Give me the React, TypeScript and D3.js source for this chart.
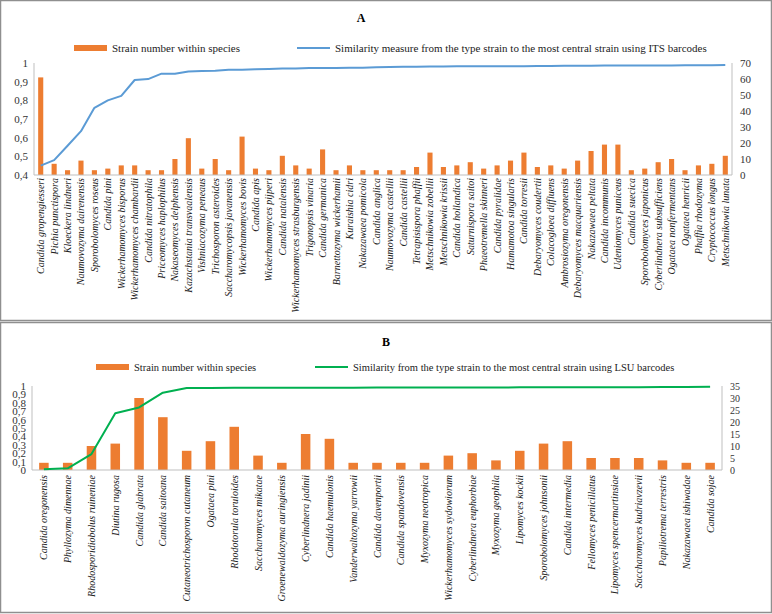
import React from "react";
import * as d3 from "d3";

const catsA = [
  "Candida gropengiesseri","Pichia punctispora","Kloeckera lindneri","Naumovozyma dairenensis","Sporobolomyces roseus",
  "Candida pini","Wickerhamomyces bisporus","Wickerhamomyces chambardii","Candida nitratophila","Priceomyces haplophilus",
  "Nakaseomyces delphensis","Kazachstania transvaalensis","Vishniacozyma peneaus","Trichosporon asteroides","Saccharomycopsis javanensis",
  "Wickerhamomyces bovis","Candida apis","Wickerhamomyces pijperi","Candida natalensis","Wickerhamomyces strasburgensis",
  "Trigonopsis vinaria","Candida germanica","Barnettozyma wickerhamii","Kuraishia cidri","Nakazawaea pomicola",
  "Candida anglica","Naumovozyma castellii","Candida castellii","Tetrapisispora phaffii","Metschnikowia zobellii",
  "Metschnikowia krissii","Candida hollandica","Saturnispora saitoi","Phaeotremella skinneri","Candida pyralidae",
  "Hamamotoa singularis","Candida torresii","Debaryomyces coudertii","Colacogloea diffluens","Ambrosiozyma oregonensis",
  "Debaryomyces macquariensis","Nakazawaea peltata","Candida incommunis","Udeniomyces puniceus","Candida suecica",
  "Sporobolomyces japonicus","Cyberlindnera subsufficiens","Ogataea nonfermentans","Ogataea henricii","Phaffia rhodozyma",
  "Cryptococcus longus","Metschnikowia lunata"
];
const strainsA = [61,7,3,9,3,4,6,6,3,3,10,23,4,10,3,24,4,3,12,6,4,16,3,6,3,3,3,3,5,14,5,6,8,4,6,9,14,5,6,4,9,15,19,19,3,4,8,10,3,6,7,12];
const simA = [0.45,0.48,0.557,0.635,0.76,0.8,0.824,0.909,0.914,0.943,0.943,0.955,0.957,0.959,0.964,0.964,0.966,0.968,0.97,0.971,0.973,0.973,0.973,0.975,0.975,0.977,0.979,0.98,0.98,0.981,0.981,0.982,0.982,0.982,0.983,0.983,0.983,0.984,0.984,0.985,0.985,0.985,0.986,0.986,0.986,0.987,0.987,0.987,0.988,0.988,0.988,0.989];
const leftTicksA = [0.4,0.5,0.6,0.7,0.8,0.9,1];
const rightTicksA = [0,10,20,30,40,50,60,70];

const catsB = [
  "Candida oregonensis","Phyllozyma dimennae","Rhodosporidiobolus ruineniae","Diutina rugosa","Candida glabrata",
  "Candida saitoana","Cutaneotrichosporon cutaneum","Ogataea pini","Rhodotorula toruloides","Saccharomyces mikatae",
  "Groenewaldozyma auringiensis","Cyberlindnera jadinii","Candida haemulonis","Vanderwaltozyma yarrowii","Candida davenportii",
  "Candida spandovensis","Myxozyma neotropica","Wickerhamomyces sydowiorum","Cyberlindnera euphorbiae","Myxozyma geophila",
  "Lipomyces kockii","Sporobolomyces johnsonii","Candida intermedia","Fellomyces penicillatus","Lipomyces spencermartinsiae",
  "Saccharomyces kudriavzevii","Papiliotrema terrestris","Nakazawaea ishiwadae","Candida sojae"
];
const strainsB = [3,3,10,11,30,22,8,12,18,6,3,15,13,3,3,3,3,6,7,4,8,11,12,5,5,5,4,3,3];
const simB = [0.01,0.02,0.19,0.675,0.745,0.92,0.976,0.977,0.978,0.978,0.979,0.979,0.98,0.98,0.981,0.981,0.982,0.982,0.983,0.983,0.984,0.984,0.985,0.985,0.986,0.986,0.987,0.988,0.99];
const leftTicksB = [0,0.1,0.2,0.3,0.4,0.5,0.6,0.7,0.8,0.9,1];
const rightTicksB = [0,5,10,15,20,25,30,35];

const ORANGE = "#ED7D31";
const FONT = "'Liberation Serif', 'Times New Roman', serif";
const fmt = (v: number) => String(v).replace(".", ",");

type PanelProps = {
  title: string; titleX: number; titleY: number;
  cats: string[]; strains: number[]; sim: number[];
  leftTicks: number[]; rightTicks: number[];
  leftDomain: [number, number]; rightMax: number;
  x0: number; x1: number; yTop: number; yBot: number;
  lineColor: string; lineLabel: string;
  legY: number; legBarX: number; legLineX: number;
  barPad: number; labelGap: number; labelSize: number;
  leftFont: number; rightFont: number; legFont: number;
};

function Panel(p: PanelProps) {
  const x = d3.scaleBand<string>().domain(p.cats).range([p.x0, p.x1]).paddingInner(p.barPad).paddingOuter(p.barPad / 2);
  const yL = d3.scaleLinear().domain(p.leftDomain).range([p.yBot, p.yTop]);
  const yR = d3.scaleLinear().domain([0, p.rightMax]).range([p.yBot, p.yTop]);
  const line = d3.line<number>()
    .x((_, i) => (x(p.cats[i]) as number) + x.bandwidth() / 2)
    .y((d) => yL(d));
  return (
    <g fontFamily={FONT}>
      <text x={p.titleX} y={p.titleY} textAnchor="middle" fontWeight="bold" fontSize={12} fill="#000">{p.title}</text>
      <rect x={p.legBarX} y={p.legY - 3} width={33} height={6} fill={ORANGE} />
      <text x={p.legBarX + 38} y={p.legY + 4} fontSize={p.legFont} fill="#222">Strain number within species</text>
      <line x1={p.legLineX} x2={p.legLineX + 33} y1={p.legY} y2={p.legY} stroke={p.lineColor} strokeWidth={2} />
      <text x={p.legLineX + 38} y={p.legY + 4} fontSize={p.legFont} fill="#222">{p.lineLabel}</text>
      {p.strains.map((v, i) => (
        <rect key={i} x={x(p.cats[i])} y={yR(v)} width={x.bandwidth()} height={p.yBot - yR(v)} fill={ORANGE} />
      ))}
      <line x1={p.x0} x2={p.x1} y1={p.yBot} y2={p.yBot} stroke="#bfbfbf" strokeWidth={1} />
      <line x1={p.x0} x2={p.x0} y1={p.yTop} y2={p.yBot} stroke="#bfbfbf" strokeWidth={1} />
      <line x1={p.x1} x2={p.x1} y1={p.yTop} y2={p.yBot} stroke="#bfbfbf" strokeWidth={1} />
      <path d={line(p.sim) || ""} fill="none" stroke={p.lineColor} strokeWidth={2} strokeLinejoin="round" />
      {p.leftTicks.map((t) => (
        <text key={t} x={p.x0 - 6} y={yL(t) + 4} textAnchor="end" fontSize={p.leftFont} fill="#333">{fmt(t)}</text>
      ))}
      {p.rightTicks.map((t) => (
        <text key={t} x={p.x1 + 8} y={yR(t) + 4} textAnchor="start" fontSize={p.rightFont} fill="#333">{t}</text>
      ))}
      {p.cats.map((c) => {
        const cx = (x(c) as number) + x.bandwidth() / 2;
        const ty = p.yBot + p.labelGap;
        return (
          <text key={c} transform={`translate(${cx + p.labelSize * 0.35},${ty}) rotate(-90)`} textAnchor="end"
            fontSize={p.labelSize} fontStyle="italic" fill="#222">{c}</text>
        );
      })}
    </g>
  );
}

export default function App() {
  return (
    <svg width={772} height={614} style={{ position: "absolute", left: 0, top: 0, background: "#fff" }}>
      <rect x={0.5} y={0.5} width={771} height={320} fill="#fff" stroke="#8f8f8f" strokeWidth={1.5} />
      <rect x={0.5} y={322.5} width={771} height={290} fill="#fff" stroke="#8f8f8f" strokeWidth={1.5} />
      <Panel title="A" titleX={361} titleY={22} cats={catsA} strains={strainsA} sim={simA}
        leftTicks={leftTicksA} rightTicks={rightTicksA} leftDomain={[0.4, 1]} rightMax={70}
        x0={34} x1={732} yTop={63} yBot={175} lineColor="#5B9BD5"
        lineLabel="Similarity measure from the type strain to the most central strain using ITS barcodes"
        legY={48} legBarX={74} legLineX={297} barPad={0.62} labelGap={3} labelSize={10}
        leftFont={11} rightFont={11} legFont={11} />
      <Panel title="B" titleX={386} titleY={346} cats={catsB} strains={strainsB} sim={simB}
        leftTicks={leftTicksB} rightTicks={rightTicksB} leftDomain={[0, 1]} rightMax={35}
        x0={32} x1={722} yTop={386} yBot={470} lineColor="#00B050"
        lineLabel="Similarity from the type strain to the most central strain using LSU barcodes"
        legY={367} legBarX={96} legLineX={315} barPad={0.6} labelGap={5} labelSize={10}
        leftFont={11} rightFont={10} legFont={10.5} />
    </svg>
  );
}
